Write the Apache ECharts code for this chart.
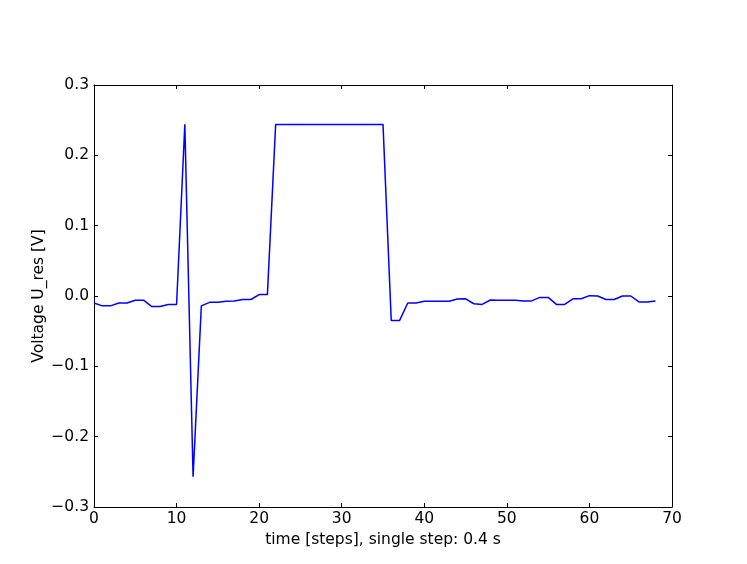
<!DOCTYPE html>
<html>
<head>
<meta charset="utf-8">
<script src="https://cdn.jsdelivr.net/npm/echarts@6/dist/echarts.min.js"></script>
<style>
  html, body { margin: 0; padding: 0; background: #fff; }
  #chart { width: 747px; height: 564px; }
</style>
</head>
<body>
<div id="chart"></div>
<script>
// time steps 0..68
const steps = [];
for (let i = 0; i <= 68; i++) steps.push(i);

// residual voltage
const uRes = [
  -0.010, -0.014, -0.014, -0.010, -0.010, -0.006, -0.006, -0.015, -0.015, -0.012,
  -0.012, 0.244, -0.257, -0.014, -0.009, -0.009, -0.0075, -0.007, -0.005, -0.005,
  0.002, 0.002, 0.244, 0.244, 0.244, 0.244, 0.244, 0.244, 0.244, 0.244,
  0.244, 0.244, 0.244, 0.244, 0.244, 0.244, -0.035, -0.035, -0.010, -0.010,
  -0.0076, -0.0076, -0.0076, -0.0075, -0.0043, -0.004, -0.011, -0.012, -0.0057, -0.006,
  -0.006, -0.006, -0.007, -0.007, -0.002, -0.002, -0.012, -0.012, -0.004, -0.004,
  0.0005, 0.000, -0.005, -0.005, 0.000, 0.000, -0.0085, -0.0085, -0.007
];

const font = 'DejaVu Sans';
const fs = 15.5;
// fresh objects per axis so echarts doesn't share them
const tick = () => ({ show: true, inside: true, length: 4, lineStyle: { color: '#000', width: 1 } });
const line = () => ({ show: true, onZero: false, lineStyle: { color: '#000', width: 1 } });

const chart = echarts.init(document.getElementById('chart'));
chart.setOption({
  animation: false,
  grid: { left: 94, right: 75, top: 85, bottom: 57, show: false },
  xAxis: [
    {
      type: 'value', min: 0, max: 70, interval: 10,
      name: 'time [steps], single step: 0.4 s',
      nameLocation: 'middle', nameGap: 25, nameMoveOverlap: false,
      nameTextStyle: { fontFamily: font, fontSize: fs, color: '#000' },
      axisLine: line(),
      axisTick: tick(),
      splitLine: { show: false },
      axisLabel: { fontFamily: font, fontSize: fs, color: '#000', margin: 4 }
    },
    {
      type: 'value', min: 0, max: 70, interval: 10, position: 'top',
      axisLine: line(),
      axisTick: tick(),
      splitLine: { show: false },
      axisLabel: { show: false }
    }
  ],
  yAxis: [
    {
      type: 'value', min: -0.3, max: 0.3, interval: 0.1,
      name: 'Voltage U_res [V]',
      nameLocation: 'middle', nameGap: 47, nameRotate: 90, nameMoveOverlap: false,
      nameTextStyle: { fontFamily: font, fontSize: fs, color: '#000' },
      axisLine: line(),
      axisTick: tick(),
      splitLine: { show: false },
      axisLabel: {
        fontFamily: font, fontSize: fs, color: '#000', margin: 5,
        formatter: v => v.toFixed(1).replace('-', '\u2212')
      }
    },
    {
      type: 'value', min: -0.3, max: 0.3, interval: 0.1, position: 'right',
      axisLine: line(),
      axisTick: tick(),
      splitLine: { show: false },
      axisLabel: { show: false }
    }
  ],
  series: [
    {
      type: 'line',
      data: steps.map((s, i) => [s, uRes[i]]),
      showSymbol: false,
      lineStyle: { color: '#0000ff', width: 1.5 },
      itemStyle: { color: '#0000ff' }
    }
  ]
});
</script>
</body>
</html>
